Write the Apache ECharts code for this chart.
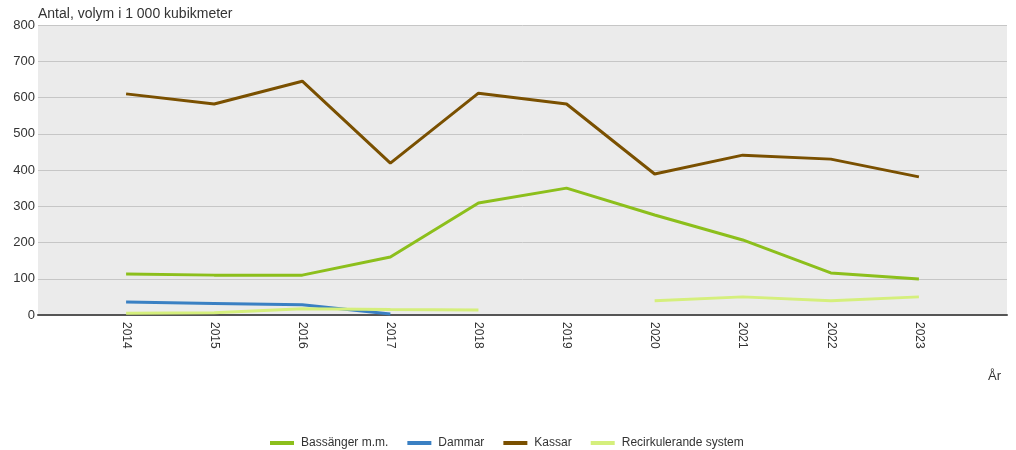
<!DOCTYPE html>
<html>
<head>
<meta charset="utf-8">
<script src="https://cdn.jsdelivr.net/npm/echarts@6/dist/echarts.min.js"></script>
<style>
  html, body { margin: 0; padding: 0; background: #fff; }
  #chart { width: 1016px; height: 450px; }
</style>
</head>
<body>
<div id="chart"></div>
<script>
// år och serier (1 000 kubikmeter)
const years = [2014, 2015, 2016, 2017, 2018, 2019, 2020, 2021, 2022, 2023]
const bassanger = [113, 110, 110, 160, 309, 350, 276, 207, 116, 99]
const dammar = [36, 32, 28, 3, null, null, null, null, null, null]
const kassar = [610, 582, 645, 419, 612, 582, 389, 441, 430, 381]
const recirk = [5, 6, 17, 15, 14, null, 39, 50, 39, 50]

const seriesNames = ['Bassänger m.m.', 'Dammar', 'Kassar', 'Recirkulerande system']
const colors = ['#8cbf1c', '#3a80c3', '#7a5000', '#d5ef7c']

const pairs = arr => years.map((y, i) => [y, arr[i]])

const myChart = echarts.init(document.getElementById('chart'))

myChart.setOption({
  animation: false,
  textStyle: { fontFamily: 'Liberation Sans, Arial, sans-serif' },
  color: colors,
  grid: { left: 38, right: 9, top: 25, bottom: 135, backgroundColor: '#ebebeb', show: true, borderWidth: 0 },
  legend: {
    top: 432,
    left: 265,
    itemWidth: 24,
    itemHeight: 4,
    itemGap: 19,
    icon: 'rect',
    textStyle: { color: '#333', fontSize: 12, padding: [0, 0, 0, 2] },
    data: seriesNames
  },
  xAxis: {
    type: 'value',
    min: 2013,
    max: 2024,
    interval: 1,
    axisLine: { lineStyle: { color: '#555', width: 2 } },
    axisTick: { show: false },
    splitLine: { show: false },
    axisLabel: {
      rotate: -90,
      color: '#333',
      fontSize: 12,
      margin: 7,
      formatter: v => (v > 2013 && v < 2024 ? String(v) : '')
    }
  },
  yAxis: {
    type: 'value',
    min: 0,
    max: 800,
    interval: 100,
    axisLine: { show: false },
    axisTick: { show: false },
    splitLine: { lineStyle: { color: '#c6c6c6', width: 1 } },
    axisLabel: { color: '#333', fontSize: 13, margin: 3 }
  },
  graphic: [
    { type: 'text', left: 38, top: 7, style: { text: 'Antal, volym i 1 000 kubikmeter', fill: '#333', font: '14px Liberation Sans, Arial, sans-serif' } },
    { type: 'text', left: 988, top: 370, style: { text: 'År', fill: '#333', font: '13px Liberation Sans, Arial, sans-serif' } }
  ],
  series: [bassanger, dammar, kassar, recirk].map((arr, i) => ({
    name: seriesNames[i],
    type: 'line',
    data: pairs(arr),
    showSymbol: false,
    symbol: 'none',
    connectNulls: false,
    lineStyle: { width: 3, color: colors[i] }
  }))
})

window.addEventListener('resize', () => myChart.resize(), false)
</script>
</body>
</html>
